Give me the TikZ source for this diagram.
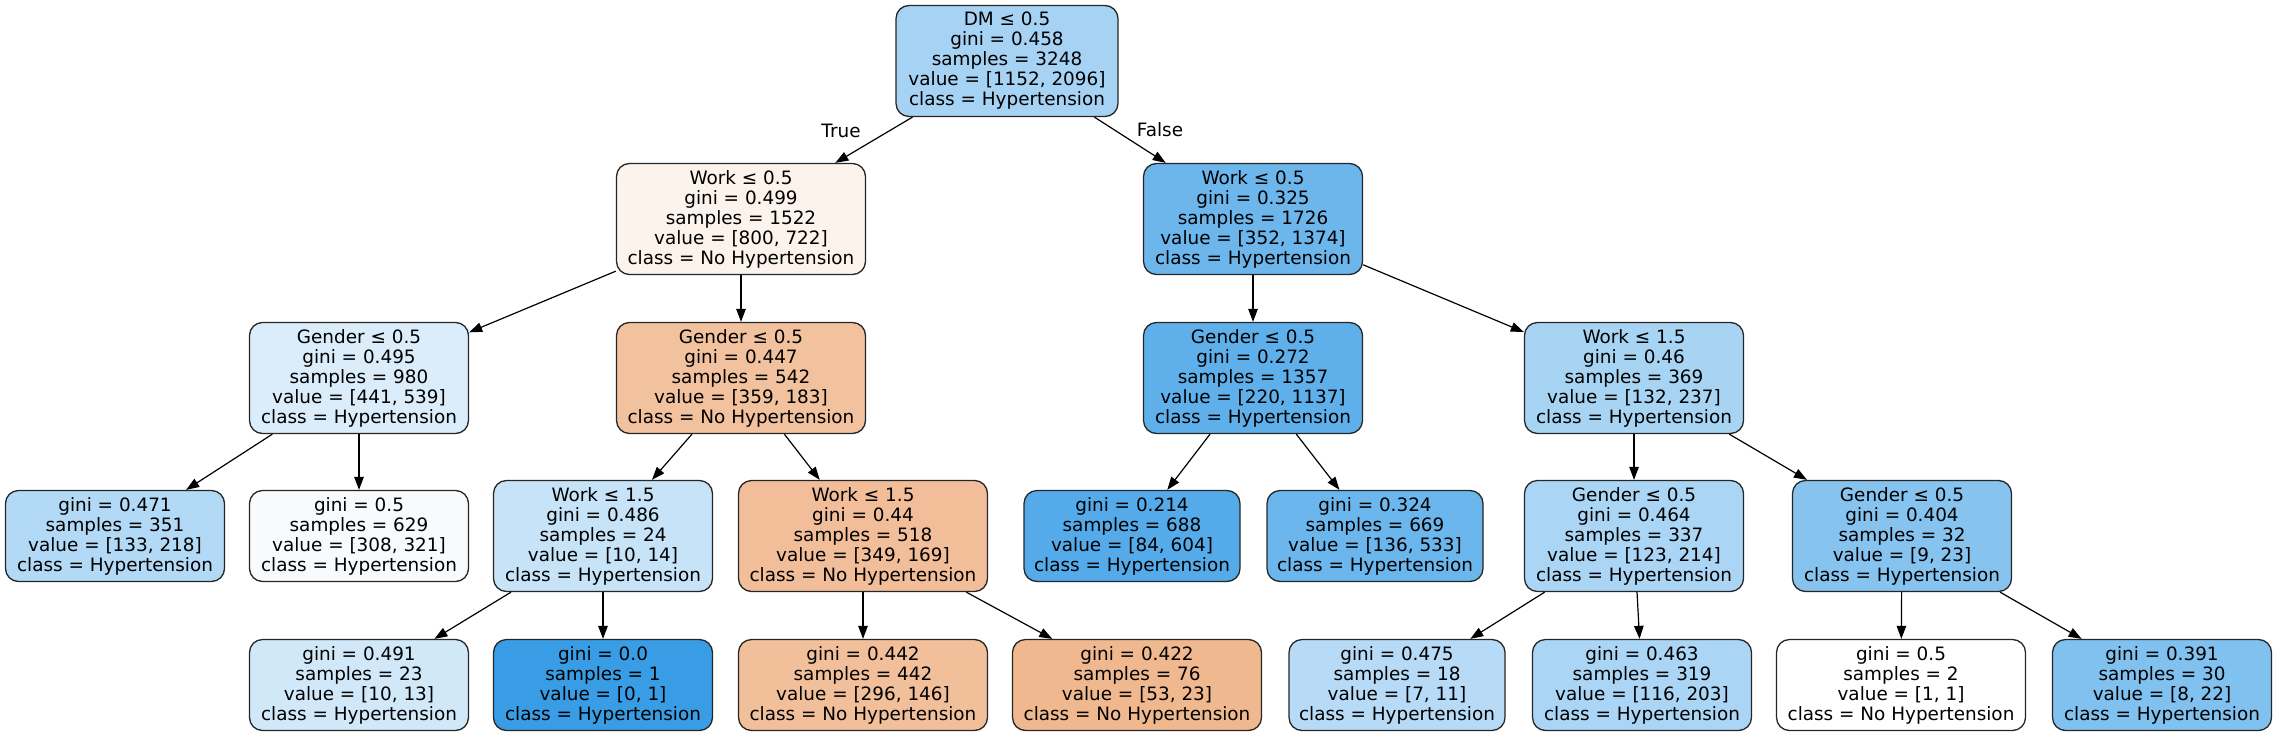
\documentclass[tikz,border=0pt]{standalone}
\usepackage{fontspec}
\setmainfont{DejaVu Sans}
\usetikzlibrary{arrows.meta}
\definecolor{c0}{RGB}{166,211,243}
\definecolor{c1}{RGB}{252,243,236}
\definecolor{c2}{RGB}{108,182,236}
\definecolor{c3}{RGB}{219,237,250}
\definecolor{c4}{RGB}{242,193,158}
\definecolor{c5}{RGB}{95,176,234}
\definecolor{c6}{RGB}{167,212,243}
\definecolor{c7}{RGB}{178,217,245}
\definecolor{c8}{RGB}{247,251,254}
\definecolor{c9}{RGB}{198,227,248}
\definecolor{c10}{RGB}{242,190,153}
\definecolor{c11}{RGB}{85,171,233}
\definecolor{c12}{RGB}{107,182,236}
\definecolor{c13}{RGB}{171,213,244}
\definecolor{c14}{RGB}{134,195,239}
\definecolor{c15}{RGB}{209,232,249}
\definecolor{c16}{RGB}{57,157,229}
\definecolor{c17}{RGB}{242,191,155}
\definecolor{c18}{RGB}{240,184,143}
\definecolor{c19}{RGB}{183,219,246}
\definecolor{c20}{RGB}{170,213,244}
\definecolor{c21}{RGB}{255,255,255}
\definecolor{c22}{RGB}{129,193,239}
\begin{document}
\begin{tikzpicture}[x=1pt,y=-1pt,
  tnode/.style={draw=black!85, line width=1.3pt, rounded corners=13pt, align=center,
    inner sep=0pt, minimum width=219pt, minimum height=111pt,
    font=\fontsize{18.4}{20}\selectfont},
  leafnode/.style={tnode, minimum height=91pt},
  nohyp/.style={minimum width=249pt},
  edge/.style={draw=black, line width=1.2pt, -{Triangle[length=13pt,width=9.5pt]}},
  elabel/.style={font=\fontsize{18.4}{20}\selectfont, inner sep=0pt}]
\useasboundingbox (0,0) rectangle (2277,736);
% row 0
\node[tnode, fill=c0, minimum width=222pt] (n0) at (1007,61) {DM ≤ 0.5\\gini = 0.458\\samples = 3248\\value = [1152, 2096]\\class = Hypertension};
% row 1
\node[tnode, nohyp, fill=c1] (n1) at (741,219) {Work ≤ 0.5\\gini = 0.499\\samples = 1522\\value = [800, 722]\\class = No Hypertension};
\node[tnode, fill=c2] (n2) at (1253,219) {Work ≤ 0.5\\gini = 0.325\\samples = 1726\\value = [352, 1374]\\class = Hypertension};
% row 2
\node[tnode, fill=c3] (n3) at (359,378) {Gender ≤ 0.5\\gini = 0.495\\samples = 980\\value = [441, 539]\\class = Hypertension};
\node[tnode, nohyp, fill=c4] (n4) at (741,378) {Gender ≤ 0.5\\gini = 0.447\\samples = 542\\value = [359, 183]\\class = No Hypertension};
\node[tnode, fill=c5] (n5) at (1253,378) {Gender ≤ 0.5\\gini = 0.272\\samples = 1357\\value = [220, 1137]\\class = Hypertension};
\node[tnode, fill=c6] (n6) at (1634,378) {Work ≤ 1.5\\gini = 0.46\\samples = 369\\value = [132, 237]\\class = Hypertension};
% row 3
\node[leafnode, fill=c7] (n7) at (115,536) {gini = 0.471\\samples = 351\\value = [133, 218]\\class = Hypertension};
\node[leafnode, fill=c8] (n8) at (359,536) {gini = 0.5\\samples = 629\\value = [308, 321]\\class = Hypertension};
\node[tnode, fill=c9] (n9) at (603,536) {Work ≤ 1.5\\gini = 0.486\\samples = 24\\value = [10, 14]\\class = Hypertension};
\node[tnode, nohyp, fill=c10] (n10) at (863,536) {Work ≤ 1.5\\gini = 0.44\\samples = 518\\value = [349, 169]\\class = No Hypertension};
\node[leafnode, fill=c11, minimum width=216pt] (n11) at (1132,536) {gini = 0.214\\samples = 688\\value = [84, 604]\\class = Hypertension};
\node[leafnode, fill=c12, minimum width=216pt] (n12) at (1375,536) {gini = 0.324\\samples = 669\\value = [136, 533]\\class = Hypertension};
\node[tnode, fill=c13] (n13) at (1634,536) {Gender ≤ 0.5\\gini = 0.464\\samples = 337\\value = [123, 214]\\class = Hypertension};
\node[tnode, fill=c14] (n14) at (1902,536) {Gender ≤ 0.5\\gini = 0.404\\samples = 32\\value = [9, 23]\\class = Hypertension};
% row 4
\node[leafnode, fill=c15] (n15) at (359,685) {gini = 0.491\\samples = 23\\value = [10, 13]\\class = Hypertension};
\node[leafnode, fill=c16] (n16) at (603,685) {gini = 0.0\\samples = 1\\value = [0, 1]\\class = Hypertension};
\node[leafnode, nohyp, fill=c17] (n17) at (863,685) {gini = 0.442\\samples = 442\\value = [296, 146]\\class = No Hypertension};
\node[leafnode, nohyp, fill=c18] (n18) at (1137,685) {gini = 0.422\\samples = 76\\value = [53, 23]\\class = No Hypertension};
\node[leafnode, fill=c19, minimum width=216pt] (n19) at (1397,685) {gini = 0.475\\samples = 18\\value = [7, 11]\\class = Hypertension};
\node[leafnode, fill=c20] (n20) at (1642,685) {gini = 0.463\\samples = 319\\value = [116, 203]\\class = Hypertension};
\node[leafnode, nohyp, fill=c21] (n21) at (1901,685) {gini = 0.5\\samples = 2\\value = [1, 1]\\class = No Hypertension};
\node[leafnode, fill=c22] (n22) at (2162,685) {gini = 0.391\\samples = 30\\value = [8, 22]\\class = Hypertension};
% edges
\draw[edge] (n0) -- (n1);
\draw[edge] (n0) -- (n2);
\draw[edge] (n1) -- (n3);
\draw[edge] (n1) -- (n4);
\draw[edge] (n3) -- (n7);
\draw[edge] (n3) -- (n8);
\draw[edge] (n4) -- (n9);
\draw[edge] (n4) -- (n10);
\draw[edge] (n9) -- (n15);
\draw[edge] (n9) -- (n16);
\draw[edge] (n10) -- (n17);
\draw[edge] (n10) -- (n18);
\draw[edge] (n2) -- (n5);
\draw[edge] (n2) -- (n6);
\draw[edge] (n5) -- (n11);
\draw[edge] (n5) -- (n12);
\draw[edge] (n6) -- (n13);
\draw[edge] (n6) -- (n14);
\draw[edge] (n13) -- (n19);
\draw[edge] (n13) -- (n20);
\draw[edge] (n14) -- (n21);
\draw[edge] (n14) -- (n22);
% edge labels
\node[elabel] (lt) at (841,131) {True};
\node[elabel] (lf) at (1160,130) {False};
\end{tikzpicture}
\end{document}
